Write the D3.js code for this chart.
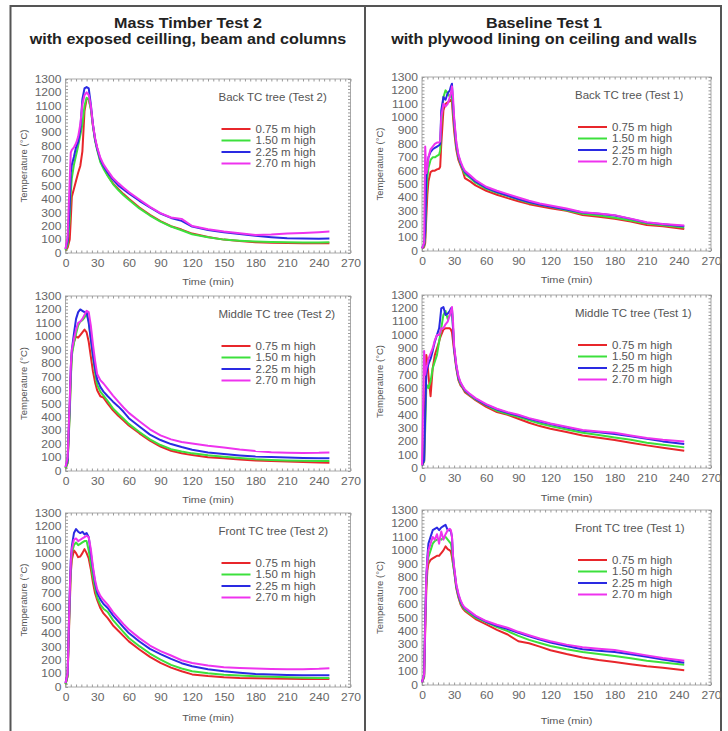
<!DOCTYPE html>
<html>

<head>
    <meta charset='utf-8'>
    <title>TC tree temperatures</title>
    <script type='text/javascript' src='https://cdn.jsdelivr.net/npm/d3@7'></script>
    <style>
        body { margin: 0; background: #fff; }
    </style>
</head>

<body>
    <svg width='728' height='731'></svg>
    <script type='text/javascript'>

        // time samples (min)
        const timeTest2 = [0, 2, 4, 5, 6, 8, 10, 12, 14, 16, 18, 20, 22, 24, 26, 28, 30, 33, 36, 40, 45, 50, 55, 60, 70, 80, 90, 100, 110, 120, 135, 150, 165, 180, 195, 210, 225, 240, 250]
        const timeTest1 = [0, 2, 3, 4, 5, 6, 8, 10, 12, 14, 16, 17, 18, 20, 22, 24, 26, 27, 28, 29, 30, 32, 34, 36, 38, 40, 45, 50, 60, 70, 80, 90, 100, 110, 120, 135, 150, 165, 180, 195, 210, 225, 245]

        const heights = ['0.75 m high', '1.50 m high', '2.25 m high', '2.70 m high']
        const colors = ['#e8262b', '#3ce03c', '#2a2ae2', '#ee33ee']
        const xTicks = [0, 30, 60, 90, 120, 150, 180, 210, 240, 270]
        const yTicks = [0, 100, 200, 300, 400, 500, 600, 700, 800, 900, 1000, 1100, 1200, 1300]

        // temperatures (°C), one array per TC height: 0.75, 1.50, 2.25, 2.70 m
        const back2 = [
            [20, 40, 100, 250, 420, 480, 540, 600, 650, 760, 1060, 1150, 1150, 1080, 950, 850, 780, 690, 640, 580, 520, 478, 440, 405, 340, 285, 238, 200, 175, 145, 120, 100, 90, 80, 77, 75, 73, 72, 72],
            [20, 60, 250, 450, 560, 660, 730, 800, 880, 960, 1100, 1160, 1150, 1075, 950, 840, 770, 680, 630, 575, 515, 470, 432, 398, 333, 280, 235, 198, 170, 140, 118, 100, 92, 86, 82, 80, 79, 78, 80],
            [30, 90, 350, 600, 660, 720, 790, 830, 920, 1150, 1230, 1240, 1230, 1110, 960, 850, 780, 700, 650, 600, 548, 505, 475, 445, 390, 340, 295, 262, 240, 198, 172, 155, 142, 128, 118, 110, 108, 106, 108],
            [30, 120, 550, 750, 770, 790, 820, 870, 960, 1110, 1180, 1200, 1180, 1100, 960, 860, 790, 712, 662, 615, 560, 522, 488, 455, 400, 345, 298, 265, 255, 202, 178, 160, 148, 135, 138, 145, 150, 155, 160]
        ]
        const middle2 = [
            [20, 60, 450, 700, 880, 960, 1000, 990, 1010, 1030, 1050, 1030, 960, 850, 740, 660, 600, 555, 545, 500, 450, 410, 375, 338, 280, 225, 182, 150, 132, 118, 103, 94, 86, 78, 74, 70, 66, 63, 62],
            [20, 60, 420, 680, 860, 950, 1020, 1080, 1110, 1120, 1140, 1170, 1110, 980, 850, 730, 640, 590, 560, 520, 465, 425, 388, 350, 290, 235, 193, 162, 145, 131, 117, 106, 96, 87, 82, 78, 76, 75, 75],
            [30, 80, 500, 760, 900, 1020, 1130, 1180, 1200, 1190, 1180, 1180, 1100, 980, 860, 760, 680, 625, 590, 555, 515, 480, 440, 392, 330, 270, 230, 200, 178, 158, 138, 126, 116, 107, 104, 100, 97, 95, 94],
            [30, 100, 520, 780, 900, 980, 1050, 1100, 1110, 1130, 1160, 1190, 1180, 1080, 940, 820, 720, 675, 650, 610, 560, 515, 472, 432, 370, 310, 265, 235, 215, 205, 188, 175, 160, 148, 140, 136, 134, 135, 138]
        ]
        const front2 = [
            [20, 80, 600, 850, 950, 1020, 1000, 970, 975, 1000, 1030, 1000, 960, 880, 780, 700, 650, 590, 550, 515, 460, 420, 380, 341, 280, 225, 180, 145, 118, 94, 82, 73, 68, 66, 64, 62, 60, 60, 60],
            [20, 80, 650, 880, 1000, 1060, 1080, 1060, 1070, 1080, 1090, 1090, 1020, 920, 820, 740, 670, 615, 585, 560, 500, 455, 410, 366, 305, 250, 205, 165, 138, 117, 102, 92, 85, 80, 76, 72, 70, 68, 67],
            [30, 100, 700, 950, 1050, 1150, 1180, 1160, 1150, 1160, 1140, 1150, 1120, 1000, 880, 780, 705, 655, 620, 590, 535, 490, 445, 403, 340, 285, 246, 210, 178, 155, 133, 118, 107, 98, 94, 90, 88, 87, 87],
            [30, 100, 700, 930, 1030, 1100, 1110, 1090, 1100, 1110, 1120, 1130, 1120, 1030, 900, 800, 730, 680, 650, 615, 560, 515, 470, 430, 365, 310, 268, 235, 200, 180, 160, 148, 142, 138, 135, 132, 133, 136, 140]
        ]
        const back1 = [
            [20, 30, 60, 250, 420, 520, 590, 600, 600, 610, 615, 630, 800, 1050, 1100, 1110, 1120, 1130, 1110, 1000, 900, 760, 680, 640, 600, 545, 520, 490, 450, 420, 395, 372, 350, 335, 320, 300, 268, 255, 240, 220, 195, 185, 165],
            [20, 40, 100, 400, 550, 620, 680, 700, 700, 710, 720, 750, 950, 1150, 1200, 1180, 1150, 1170, 1150, 1050, 950, 780, 700, 650, 610, 575, 545, 510, 465, 435, 410, 385, 360, 345, 330, 305, 278, 265, 248, 228, 205, 192, 175],
            [20, 50, 150, 550, 650, 700, 740, 760, 770, 780, 790, 800, 1050, 1150, 1130, 1180, 1200, 1230, 1250, 1100, 980, 800, 710, 660, 620, 590, 555, 520, 472, 440, 415, 388, 365, 348, 332, 310, 288, 278, 265, 240, 212, 200, 185],
            [20, 60, 780, 580, 620, 700, 760, 780, 800, 810, 810, 820, 1000, 1100, 1080, 1100, 1150, 1180, 1230, 1150, 1000, 820, 720, 670, 630, 600, 565, 530, 480, 450, 425, 400, 375, 355, 340, 318, 290, 280, 268, 242, 215, 202, 190]
        ]
        const middle1 = [
            [20, 50, 500, 850, 800, 700, 540, 750, 850, 900, 950, 980, 1000, 1040, 1050, 1050, 1050, 1040, 1020, 950, 880, 750, 660, 620, 600, 570, 540, 510, 460, 420, 400, 370, 340, 315, 295, 270, 245, 228, 210, 190, 170, 152, 130],
            [20, 50, 300, 600, 620, 600, 650, 750, 800, 850, 950, 1000, 1050, 1150, 1180, 1120, 1150, 1170, 1180, 1050, 900, 760, 670, 630, 605, 580, 545, 515, 470, 430, 405, 385, 358, 335, 315, 290, 265, 248, 230, 212, 190, 175, 155],
            [20, 60, 400, 700, 750, 780, 820, 880, 950, 1000, 1050, 1120, 1200, 1210, 1150, 1160, 1180, 1200, 1200, 1050, 900, 770, 680, 640, 610, 585, 550, 520, 475, 440, 415, 395, 370, 350, 330, 305, 280, 268, 255, 238, 220, 200, 180],
            [20, 880, 700, 750, 780, 820, 860, 900, 960, 1000, 1000, 1020, 1050, 1050, 1080, 1100, 1150, 1180, 1210, 1100, 920, 780, 690, 645, 615, 590, 555, 525, 480, 445, 420, 400, 375, 355, 335, 310, 285, 275, 265, 245, 225, 212, 200]
        ]
        const front1 = [
            [20, 60, 400, 700, 850, 900, 930, 940, 950, 960, 960, 970, 980, 1000, 1030, 1010, 1000, 990, 950, 900, 850, 720, 650, 600, 570, 550, 520, 490, 450, 410, 375, 325, 310, 285, 258, 230, 205, 185, 170, 155, 140, 128, 110],
            [20, 60, 450, 750, 900, 950, 1000, 1050, 1070, 1080, 1080, 1090, 1080, 1090, 1100, 1080, 1060, 1050, 1000, 900, 850, 730, 660, 610, 580, 560, 530, 500, 465, 430, 400, 365, 335, 312, 290, 265, 245, 230, 215, 198, 180, 168, 150],
            [20, 80, 500, 800, 950, 1050, 1100, 1150, 1160, 1170, 1150, 1160, 1170, 1180, 1190, 1150, 1150, 1140, 1100, 950, 870, 740, 670, 620, 590, 570, 540, 510, 470, 440, 415, 388, 362, 338, 315, 290, 265, 255, 245, 228, 210, 190, 165],
            [20, 80, 450, 800, 920, 1000, 1050, 1100, 1080, 1120, 1050, 1100, 1140, 1080, 1120, 1150, 1160, 1150, 1100, 960, 880, 750, 680, 630, 595, 575, 545, 515, 475, 448, 425, 395, 370, 345, 325, 300, 280, 270, 260, 240, 220, 200, 180]
        ]

        const svg = d3.select('svg')
        const FONT = "'Liberation Sans', Arial, sans-serif"
        const SX = 1.15 // text in the picture is stretched sideways

        function label(g, x, y, str, size, opts = {}) {
            return g.append('text')
                .attr('transform', `translate(${x},${y}) scale(${SX},1)`)
                .attr('font-family', FONT)
                .attr('font-size', size)
                .attr('font-weight', opts.weight || 'normal')
                .attr('text-anchor', opts.anchor || 'start')
                .attr('fill', opts.fill || '#444')
                .text(str)
        }

        // outer frame and column divider
        svg.append('path')
            .attr('d', 'M10.5,740 V6 H721 V740 M365,6 V740')
            .attr('fill', 'none').attr('stroke', '#555').attr('stroke-width', 2)

        // column headings
        const headings = [
            { cx: 188, lines: ['Mass Timber Test 2', 'with exposed ceilling, beam and columns'] },
            { cx: 544, lines: ['Baseline Test 1', 'with plywood lining on ceiling and walls'] }
        ]
        headings.forEach(h => {
            label(svg, h.cx, 28, h.lines[0], 14, { weight: 'bold', anchor: 'middle', fill: '#222' })
            label(svg, h.cx, 43.5, h.lines[1], 14, { weight: 'bold', anchor: 'middle', fill: '#222' })
        })

        const panels = [
            { x0: 65.5, x1: 350.5, y0: 79, y1: 253, title: 'Back TC tree (Test 2)', t: timeTest2, v: back2, xl: 28 },
            { x0: 65.5, x1: 350.5, y0: 296, y1: 471, title: 'Middle TC tree (Test 2)', t: timeTest2, v: middle2, xl: 28 },
            { x0: 65.5, x1: 350.5, y0: 513, y1: 687, title: 'Front TC tree (Test 2)', t: timeTest2, v: front2, xl: 30 },
            { x0: 422, x1: 711, y0: 77, y1: 251, title: 'Back TC tree (Test 1)', t: timeTest1, v: back1, xl: 28 },
            { x0: 422, x1: 711, y0: 295, y1: 468, title: 'Middle TC tree (Test 1)', t: timeTest1, v: middle1, xl: 29 },
            { x0: 422, x1: 711, y0: 510, y1: 685, title: 'Front TC tree (Test 1)', t: timeTest1, v: front1, xl: 35 }
        ]

        panels.forEach(p => {
            const g = svg.append('g')
            const x = d3.scaleLinear().domain([0, 270]).range([p.x0, p.x1])
            const y = d3.scaleLinear().domain([0, 1300]).range([p.y1, p.y0])

            // frame with small inward ticks on all four sides
            g.append('rect')
                .attr('x', p.x0).attr('y', p.y0)
                .attr('width', p.x1 - p.x0).attr('height', p.y1 - p.y0)
                .attr('fill', 'none').attr('stroke', '#aaa').attr('stroke-width', 1)
            const minorX = d3.range(0, 271, 5)
            const minorY = d3.range(0, 1301, 25)
            const sides = [
                [d3.axisBottom(x).tickValues(minorX), `translate(0,${p.y1})`],
                [d3.axisTop(x).tickValues(minorX), `translate(0,${p.y0})`],
                [d3.axisLeft(y).tickValues(minorY), `translate(${p.x0},0)`],
                [d3.axisRight(y).tickValues(minorY), `translate(${p.x1},0)`]
            ]
            sides.forEach(([ax, tr]) => {
                const s = g.append('g').attr('transform', tr).call(ax.tickSize(-2.5).tickFormat(''))
                s.select('.domain').remove()
                s.selectAll('line').attr('stroke', '#999')
            })

            // tick labels
            const xa = g.append('g').attr('transform', `translate(0,${p.y1})`)
                .call(d3.axisBottom(x).tickValues(xTicks).tickSize(0).tickPadding(7).tickFormat(d3.format('d')))
            const ya = g.append('g').attr('transform', `translate(${p.x0},0)`)
                .call(d3.axisLeft(y).tickValues(yTicks).tickSize(0).tickPadding(3.5).tickFormat(d3.format('d')))
            ;[xa, ya].forEach(a => {
                a.select('.domain').remove()
                a.attr('font-family', FONT).attr('font-size', 10.5)
                a.selectAll('text').attr('fill', '#666').attr('transform', `scale(${SX},1)`)
            })

            // axis titles
            label(g, (p.x0 + p.x1) / 2, p.y1 + p.xl + 4, 'Time (min)', 9.5, { anchor: 'middle', fill: '#555' })
            g.append('text')
                .attr('transform', `translate(${p.x0 - 39},${(p.y0 + p.y1) / 2}) rotate(-90)`)
                .attr('font-family', FONT).attr('font-size', 9.5)
                .attr('text-anchor', 'middle').attr('fill', '#555')
                .text('Temperature (°C)')

            // temperature curves
            const line = d3.line()
                .x((d, i) => x(p.t[i]))
                .y(d => y(d))
            g.selectAll('path.series')
                .data(p.v)
                .enter()
                .append('path')
                .attr('class', 'series')
                .attr('d', d => line(d))
                .attr('fill', 'none')
                .attr('stroke', (d, i) => colors[i])
                .attr('stroke-width', 2)
                .attr('stroke-linejoin', 'round')

            // legend
            const lx = p.x0 + 153
            label(g, lx, p.y0 + 22, p.title, 10, { fill: '#555' })
            const rows = [50, 61.5, 73, 84.5]
            heights.forEach((h, i) => {
                g.append('line')
                    .attr('x1', lx + 3).attr('x2', lx + 32)
                    .attr('y1', p.y0 + rows[i]).attr('y2', p.y0 + rows[i])
                    .attr('stroke', colors[i]).attr('stroke-width', 2)
                label(g, lx + 37, p.y0 + rows[i] + 3.5, h, 10, { fill: '#555' })
            })
        })
    </script>
</body>

</html>
